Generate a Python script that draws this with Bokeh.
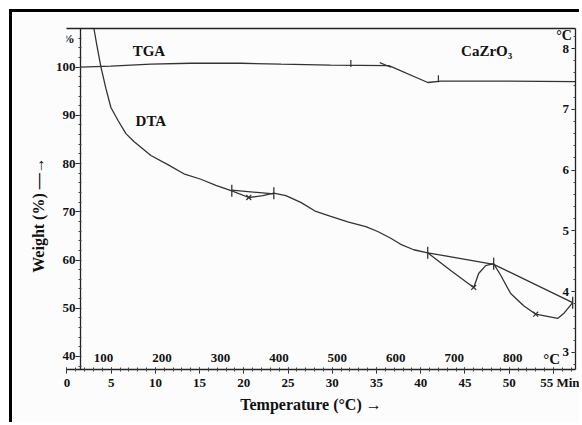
from bokeh.plotting import figure
from bokeh.models import (Range1d, LinearAxis, ColumnDataSource, LabelSet, Label,
                          FixedTicker)
from bokeh.embed import file_html
from bokeh.resources import INLINE
import math

NB = "\u00a0"

# ---- data (time in minutes) ----
time_ticks = [0, 5, 10, 15, 20, 25, 30, 35, 40, 45, 50, 55]
time_labels = {55: NB * 11 + "55" + NB + "Min"}
weight_ticks = [40, 50, 60, 70, 80, 90, 100]
dta_ticks = [3, 4, 5, 6, 7, 8]
temp_ticks = [100, 200, 300, 400, 500, 600, 700, 800]
temp_labels = ["100", "200", "300", "400", "500", "600", "700", "800"]

tga_time = [1.5, 4.97, 9.49, 14.0, 19.7, 24.2, 29.8, 36.4, 40.8, 42.3, 49.0, 57.5]
tga_weight = [100.0, 100.2, 100.6, 100.8, 100.8, 100.6, 100.4, 100.3, 96.8, 97.1, 97.1, 97.0]
tga_mark_time = [32.1, 42.0]
tga_mark_weight = [100.75, 97.6]
tga_slash_time = [36.0]
tga_slash_weight = [100.45]

dta_time = [2.71, 3.05, 3.39, 3.84, 4.41, 4.97, 5.76, 6.67, 7.57, 9.49, 11.41, 13.22,
            15.14, 16.84, 18.64, 20.56, 22.15, 23.39, 24.75, 26.44, 28.14, 29.83,
            31.75, 33.79, 35.14, 36.61, 37.74, 39.21, 40.79, 43.39, 45.99, 46.55,
            47.34, 48.25, 49.04, 50.17, 51.64, 53.00, 55.48, 56.16, 57.18]
dta_value = [8.71, 8.33, 8.05, 7.70, 7.34, 7.03, 6.82, 6.60, 6.47, 6.24, 6.09, 5.94,
             5.85, 5.75, 5.66, 5.55, 5.58, 5.62, 5.58, 5.47, 5.32, 5.24,
             5.15, 5.07, 4.99, 4.88, 4.78, 4.69, 4.64, 4.35, 4.07, 4.30,
             4.43, 4.46, 4.27, 3.97, 3.77, 3.63, 3.56, 3.64, 3.82]

base1_time = [18.64, 23.39]
base1_value = [5.67, 5.61]
base2_time = [40.79, 48.25, 57.18]
base2_value = [4.64, 4.45, 3.82]

peak_time = [20.56, 45.99, 53.00]
peak_value = [5.55, 4.07, 3.63]
onset_time = [18.64, 23.39, 40.79, 48.25, 57.18]
onset_value = [5.66, 5.62, 4.64, 4.46, 3.82]

FONT = "Liberation Serif"
INK = "#111111"
LINE = "#333333"

p = figure(width=570, height=413,
           x_range=Range1d(-0.05, 57.5), y_range=Range1d(37.3, 108.0),
           output_backend="svg", toolbar_location=None,
           min_border_left=54, min_border_right=7, min_border_top=16, min_border_bottom=56)
p.extra_y_ranges = {"dta": Range1d(2.72, 8.33)}
p.extra_x_ranges = {"temp": Range1d(36.7, 907.3)}
p.grid.visible = False
p.outline_line_color = None
p.background_fill_color = "#fcfcfc"
p.border_fill_color = "#fcfcfc"
p.margin = (9, 0, 0, 9)
p.styles = {"border-left": "3px solid #000000", "border-top": "3px solid #000000"}

def style_axis(ax):
    ax.axis_line_color = "#222222"
    ax.axis_line_width = 1.3
    ax.major_tick_line_color = "#222222"
    ax.minor_tick_line_color = "#444444"
    ax.major_label_text_font = FONT
    ax.major_label_text_font_style = "bold"
    ax.major_label_text_font_size = "13px"
    ax.major_label_text_color = INK
    ax.axis_label_text_font = FONT
    ax.axis_label_text_font_style = "bold"
    ax.axis_label_text_font_size = "16px"
    ax.axis_label_text_color = INK

# bottom (time) axis
xa = p.xaxis[0]
style_axis(xa)
xa.ticker = FixedTicker(ticks=time_ticks, minor_ticks=list(range(0, 58)))
xa.major_label_overrides = time_labels
xa.major_tick_in = 2
xa.major_tick_out = 4
xa.minor_tick_in = 2
xa.minor_tick_out = 2
xa.major_label_standoff = 1
xa.axis_label = "Temperature (°C) →" + NB * 5
xa.axis_label_standoff = 3

# left (weight) axis: labels from the side panel, line and ticks at 1.5 min
ya = p.yaxis[0]
style_axis(ya)
ya.ticker = FixedTicker(ticks=weight_ticks)
ya.axis_line_color = None
ya.major_tick_line_color = None
ya.minor_tick_line_color = None
ya.major_tick_in = 0
ya.major_tick_out = 0
ya.major_label_standoff = -9
ya.axis_label = "Weight (%) —→" + NB * 8
ya.axis_label_standoff = 6

yl = LinearAxis(fixed_location=1.5,
                ticker=FixedTicker(ticks=weight_ticks, minor_ticks=list(range(38, 108, 2))))
style_axis(yl)
yl.major_label_text_font_size = "1px"
yl.major_label_text_color = None
yl.major_label_standoff = 0
yl.major_tick_in = 0
yl.major_tick_out = 5
yl.minor_tick_in = 1
yl.minor_tick_out = 2
p.add_layout(yl, "left")

# right (DTA) axis, labels inside
ra = LinearAxis(y_range_name="dta",
                ticker=FixedTicker(ticks=dta_ticks, minor_ticks=[x / 5 for x in range(14, 42)]))
style_axis(ra)
ra.major_tick_in = 4
ra.major_tick_out = 0
ra.minor_tick_in = 2
ra.minor_tick_out = 0
ra.major_label_standoff = -13
p.add_layout(ra, "right")

# top frame line
ta = LinearAxis(ticker=FixedTicker(ticks=[]))
style_axis(ta)
ta.major_tick_line_color = None
ta.minor_tick_line_color = None
p.add_layout(ta, "above")

# curves
p.line(tga_time, tga_weight, line_color=LINE, line_width=1.3)
p.scatter(tga_mark_time, tga_mark_weight, marker="dash", size=7, angle=math.pi / 2,
          line_color=LINE, line_width=1.2)
p.scatter(tga_slash_time, tga_slash_weight, marker="dash", size=12, angle=-0.4,
          line_color=LINE, line_width=1.2)

p.line(dta_time, dta_value, y_range_name="dta", line_color=LINE, line_width=1.3)
p.line(base1_time, base1_value, y_range_name="dta", line_color=LINE, line_width=1.3)
p.line(base2_time, base2_value, y_range_name="dta", line_color=LINE, line_width=1.3)
p.scatter(peak_time, peak_value, y_range_name="dta", marker="x", size=7,
          line_color=LINE, line_width=1.2)
p.scatter(onset_time, onset_value, y_range_name="dta", marker="dash", size=12,
          angle=math.pi / 2, line_color=LINE, line_width=1.3)

# temperature labels inside above the time axis
tsrc = ColumnDataSource(dict(t=temp_ticks, txt=temp_labels))
p.add_layout(LabelSet(x="t", y=39.6, text="txt", source=tsrc, x_range_name="temp",
                      text_align="center", text_baseline="middle", text_font=FONT,
                      text_font_style="bold", text_font_size="13px", text_color=INK))

def lab(x, y, txt, size="15px", align="center"):
    p.add_layout(Label(x=x, y=y, text=txt, text_align=align, text_baseline="middle",
                       text_font=FONT, text_font_style="bold", text_font_size=size,
                       text_color=INK))

lab(54.8, 39.4, "°C", "15px")
lab(0.15, 105.9, "%", "13px")
lab(56.2, 106.5, "°C", "14px")
lab(9.27, 103.4, "TGA", "15px")
lab(9.49, 88.9, "DTA", "15px")
lab(47.46, 103.4, "CaZrO₃", "15px")

open("out.html", "w").write(file_html(p, INLINE))
